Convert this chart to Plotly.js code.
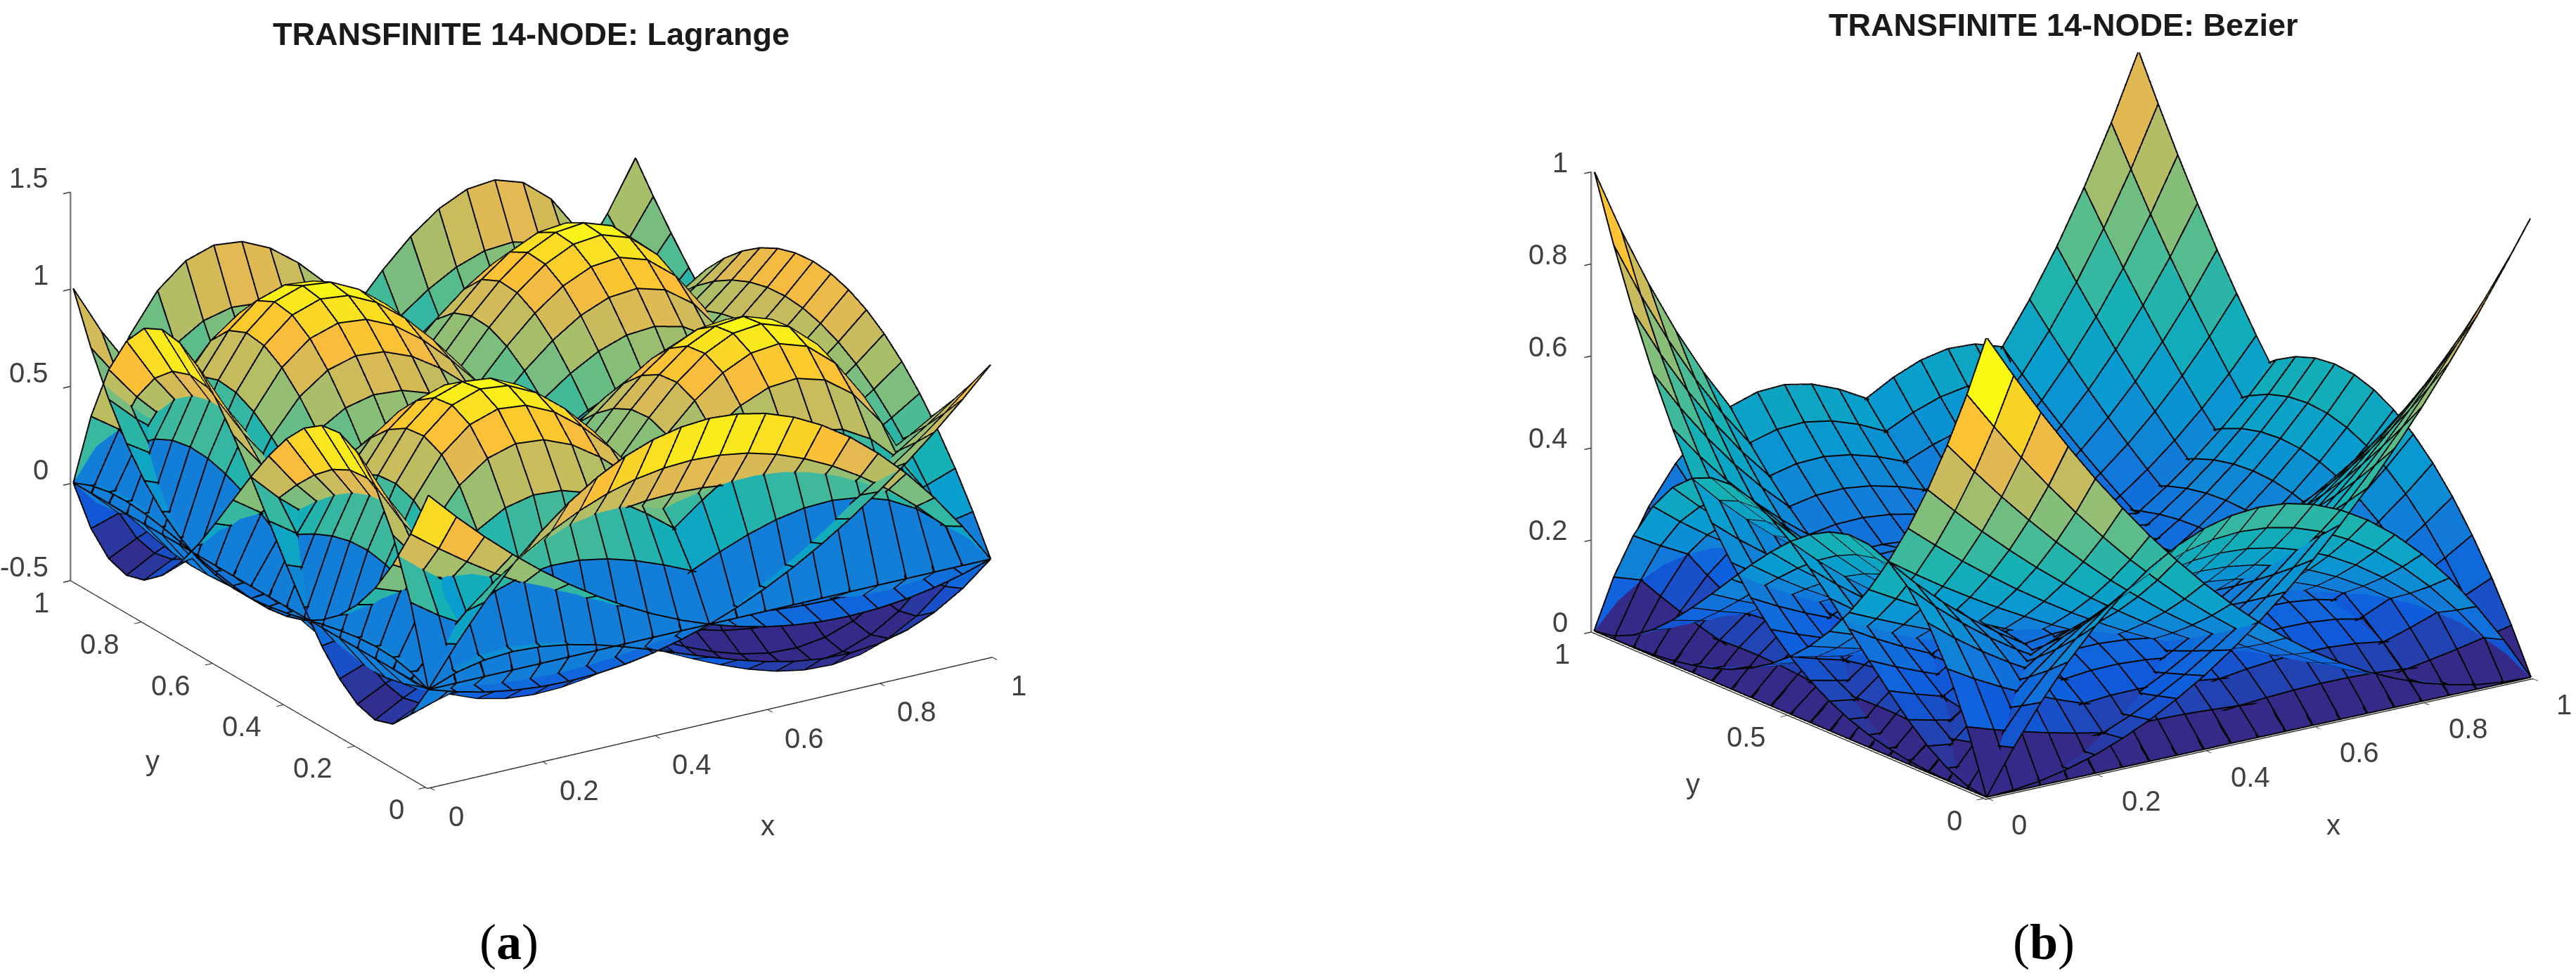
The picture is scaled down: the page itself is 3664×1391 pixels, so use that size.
<!DOCTYPE html>
<html><head><meta charset="utf-8">
<script src="https://cdn.plot.ly/plotly-3.0.1.min.js"></script>
<style>html,body{margin:0;padding:0;background:#fff}#p{width:3664px;height:1391px}</style></head>
<body><div id="p"></div>
<script>
const grid=[0,.05,.1,.15,.2,.25,.3,.35,.4,.45,.5,.55,.6,.65,.7,.75,.8,.85,.9,.95,1];
// section profiles of panel (a)
const L0=[1,.747,.536,.362,.224,.117,.039,-.016,-.048,-.063,-.063,-.051,-.032,-.008,.017,.039,.056,.064,.06,.039,0];
const L1=[0,.395,.689,.889,1.008,1.055,1.04,.973,.864,.724,.563,.39,.216,.051,-.095,-.211,-.288,-.316,-.284,-.182,0];
const L2=[0,-.182,-.284,-.316,-.288,-.211,-.095,.051,.216,.39,.563,.724,.864,.973,1.04,1.055,1.008,.889,.689,.395,0];
const L2d=[-.3,-.406,-.445,-.425,-.355,-.246,-.107,.056,.23,.409,.582,.739,.874,.975,1.035,1.043,.991,.87,.671,.383,0];
const L3=[0,.039,.06,.064,.056,.039,.017,-.008,-.032,-.051,-.063,-.063,-.048,-.016,.039,.117,.224,.362,.536,.747,1];
const Q0=[1,.855,.72,.595,.48,.375,.28,.195,.12,.055,0,-.045,-.08,-.105,-.12,-.125,-.12,-.105,-.08,-.045,0];
const Qm=[0,.19,.36,.51,.64,.75,.84,.91,.96,.99,1,.99,.96,.91,.84,.75,.64,.51,.36,.19,0];
const Qf=[0,.201,.382,.541,.678,.795,.89,.965,1.018,1.049,1.06,1.049,1.018,.965,.89,.795,.678,.541,.382,.201,0];
const Q1=[0,-.045,-.08,-.105,-.12,-.125,-.12,-.105,-.08,-.045,0,.055,.12,.195,.28,.375,.48,.595,.72,.855,1];
// section profiles of panel (b)
const B0=[1,.857,.729,.614,.512,.422,.343,.275,.216,.166,.125,.091,.064,.043,.027,.016,.008,.003,.001,0,0];
const B1=[0,.135,.243,.325,.384,.422,.441,.444,.432,.408,.375,.334,.288,.239,.189,.141,.096,.057,.027,.007,0];
const B2=[0,.007,.027,.057,.096,.141,.189,.239,.288,.334,.375,.408,.432,.444,.441,.422,.384,.325,.243,.135,0];
const B3=[0,0,.001,.003,.008,.016,.027,.043,.064,.091,.125,.166,.216,.275,.343,.422,.512,.614,.729,.857,1];
const E0=[1,.903,.81,.723,.64,.563,.49,.423,.36,.303,.25,.203,.16,.123,.09,.063,.04,.023,.01,.003,0];
const Em=[0,.095,.18,.255,.32,.375,.42,.455,.48,.495,.5,.495,.48,.455,.42,.375,.32,.255,.18,.095,0];
const E1=[0,.003,.01,.023,.04,.063,.09,.123,.16,.203,.25,.303,.36,.423,.49,.563,.64,.723,.81,.903,1];
// [x profile, y profile] of each surface
const surfacesA=[[Q0,L0],[L0,L3],[L3,Q1],[Q1,Q0],[Qf,L0],[Q1,Qm],[L0,L1],[L0,L2],[L1,L3],[L2,L3],[L1,L1],[L1,L2],[L2,L1],[L2,L2d]];
const surfacesB=[[E0,B0],[B0,B3],[B3,E1],[E1,E0],[Em,B0],[B3,Em],[B0,B1],[B0,B2],[B1,B3],[B2,B3],[B1,B1],[B1,B2],[B2,B1],[B2,B2]];
const ticksAx=[0,.2,.4,.6,.8,1], ticksAz=[-.5,0,.5,1,1.5];
const ticksBx=[0,.2,.4,.6,.8,1], ticksBy=[0,.5,1], ticksBz=[0,.2,.4,.6,.8,1];
const parula=[[0,'rgb(53,42,135)'],[.111,'rgb(15,92,221)'],[.222,'rgb(18,125,216)'],[.333,'rgb(7,156,207)'],[.444,'rgb(21,177,180)'],[.556,'rgb(89,189,140)'],[.667,'rgb(165,190,107)'],[.778,'rgb(225,185,82)'],[.84,'rgb(252,188,58)'],[.9,'rgb(250,210,40)'],[1,'rgb(249,249,20)']];

function build(surfs,scene,cmin,cmax,off){
  const n=grid.length,lx=[],ly=[],lz=[],x=[],y=[],z=[],I=[],J=[],K=[],c=[];
  surfs.forEach(([px,py])=>{
    const s=x.length;
    for(let b=0;b<n;b++)for(let a=0;a<n;a++){x.push(grid[a]);y.push(grid[b]);z.push(px[a]*py[b]);}
    for(let b=0;b<n-1;b++)for(let a=0;a<n-1;a++){
      const p=s+b*n+a,col=px[a]*py[b];
      I.push(p,p);J.push(p+1,p+n+1);K.push(p+n+1,p+n);c.push(col,col);
    }
    for(let b=0;b<n;b++){for(let a=0;a<n;a++){lx.push(grid[a]+off[0]);ly.push(grid[b]+off[1]);lz.push(px[a]*py[b]+off[2]);}lx.push(null);ly.push(null);lz.push(null);}
    for(let a=0;a<n;a++){for(let b=0;b<n;b++){lx.push(grid[a]+off[0]);ly.push(grid[b]+off[1]);lz.push(px[a]*py[b]+off[2]);}lx.push(null);ly.push(null);lz.push(null);}
  });
  return [{type:'mesh3d',scene,x,y,z,i:I,j:J,k:K,intensity:c,intensitymode:'cell',colorscale:parula,cmin,cmax,showscale:false,flatshading:true,hoverinfo:'skip',
      lighting:{ambient:1,diffuse:0,specular:0,roughness:1,fresnel:0}},
   {type:'scatter3d',scene,mode:'lines',x:lx,y:ly,z:lz,line:{color:'#050505',width:4},hoverinfo:'skip',showlegend:false}];
}
const W=3664,H=1391,tf={family:'Liberation Sans',size:40,color:'#404040'};
function ax(range,tickvals,color,lw){return {range,tickmode:'array',tickvals,showticklabels:false,title:{text:''},
  showgrid:false,zeroline:false,showbackground:false,showspikes:false,showline:true,linecolor:color,linewidth:lw,ticks:'outside',ticklen:12,tickwidth:3,tickcolor:'#333333',autorange:false};}
// tick labels and axis titles stay anchored to data through scene annotations
function lab(x,y,z,text,xshift,yshift,xanchor){return {x,y,z,text:String(text),showarrow:false,xshift,yshift,xanchor:xanchor||'center',yanchor:'middle',font:tf};}
function labelsA(){return [
 ...ticksAx.map(v=>lab(v,0,-.5,v,(v===0||v===1)?40:55,-42)),
 ...ticksAx.map(v=>lab(0,v,-.5,v,(v===0||v===1)?-45:-63,-32)),
 ...ticksAz.map(v=>lab(0,1,v,v,-33,19,'right')),
 lab(.5,0,-.5,'x',83,-148),lab(0,.5,-.5,'y',-140,-110)];}
function labelsB(){return [
 ...ticksBx.map(v=>lab(v,0,0,v,(v===0||v===1)?47:66,-38)),
 ...ticksBy.map(v=>lab(0,v,0,v,(v===0||v===1)?-45:-62,-32)),
 ...ticksBz.map(v=>lab(0,1,v,v,-35,13,'right')),
 lab(.5,0,0,'x',106,-124),lab(0,.5,0,'y',-138,-99)];}
const layout={width:W,height:H,margin:{l:0,r:0,t:0,b:0},paper_bgcolor:'#fff',showlegend:false,
 scene:{domain:{x:[0,1512/W],y:[1-1208/H,1]},aspectmode:'manual',aspectratio:{x:1.574,y:1.574,z:.984},
  camera:{projection:{type:'orthographic'},center:{x:0,y:0,z:0},eye:{x:-.994,y:-1.574,z:.736},up:{x:0,y:0,z:1}},
  xaxis:ax([-.005,1],ticksAx,'#333333',3),yaxis:ax([-.005,1],ticksAx,'#333333',3),zaxis:ax([-.5,1.5],ticksAz,'#808080',5),annotations:labelsA()},
 scene2:{domain:{x:[2202/W,1],y:[1-1210/H,1]},aspectmode:'manual',aspectratio:{x:1.586,y:1.586,z:1.136},
  camera:{projection:{type:'orthographic'},center:{x:0,y:0,z:0},eye:{x:-1.11,y:-1.54,z:.609},up:{x:0,y:0,z:1}},
  xaxis:ax([-.005,1],ticksBx,'#333333',3),yaxis:ax([-.005,1],ticksBy,'#333333',3),zaxis:ax([0,1],ticksBz,'#808080',5),annotations:labelsB()},
 annotations:[
  {text:'<b>TRANSFINITE 14-NODE: Lagrange</b>',x:755/W,y:1-49/H,xref:'paper',yref:'paper',showarrow:false,font:{family:'Liberation Sans',size:45,color:'#1a1a1a'},xanchor:'center',yanchor:'middle'},
  {text:'<b>TRANSFINITE 14-NODE: Bezier</b>',x:2935/W,y:1-35/H,xref:'paper',yref:'paper',showarrow:false,font:{family:'Liberation Sans',size:45,color:'#1a1a1a'},xanchor:'center',yanchor:'middle'},
  {text:'(<b>a</b>)',x:724/W,y:1-1340/H,xref:'paper',yref:'paper',showarrow:false,font:{family:'Liberation Serif',size:72,color:'#000'},xanchor:'center',yanchor:'middle'},
  {text:'(<b>b</b>)',x:2907/W,y:1-1340/H,xref:'paper',yref:'paper',showarrow:false,font:{family:'Liberation Serif',size:72,color:'#000'},xanchor:'center',yanchor:'middle'}
 ]};
const data=[...build(surfacesA,'scene',-.33,1.11,[-.002,-.003,.005]),...build(surfacesB,'scene2',0,1,[-.002,-.003,.003])];
Plotly.newPlot('p',data,layout,{displayModeBar:false,plotGlPixelRatio:1});
</script></body></html>
